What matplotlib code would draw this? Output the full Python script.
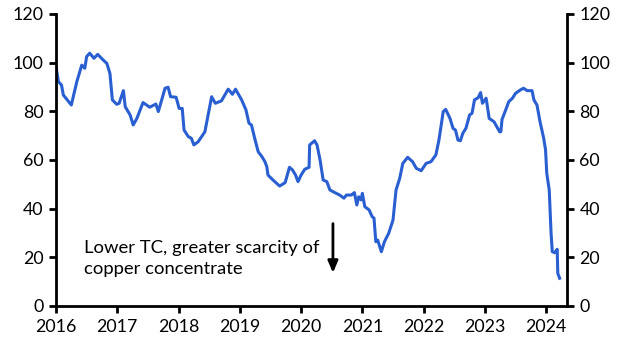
import matplotlib
matplotlib.use("Agg")
import matplotlib.pyplot as plt

years = [2016.00, 2016.04, 2016.09, 2016.12, 2016.25, 2016.34, 2016.42, 2016.47, 2016.50, 2016.55,
         2016.62, 2016.68, 2016.77, 2016.83, 2016.88, 2016.92, 2016.99, 2017.03, 2017.10, 2017.13,
         2017.21, 2017.26, 2017.32, 2017.42, 2017.53, 2017.63, 2017.67, 2017.78, 2017.83, 2017.87,
         2017.96, 2018.01, 2018.06, 2018.09, 2018.16, 2018.21, 2018.25, 2018.32, 2018.43, 2018.54,
         2018.60, 2018.70, 2018.81, 2018.88, 2018.93, 2019.03, 2019.10, 2019.15, 2019.19, 2019.25,
         2019.30, 2019.36, 2019.41, 2019.44, 2019.46, 2019.54, 2019.65, 2019.74, 2019.81, 2019.86,
         2019.91, 2019.95, 2020.00, 2020.06, 2020.13, 2020.14, 2020.22, 2020.26, 2020.31, 2020.36,
         2020.42, 2020.47, 2020.55, 2020.63, 2020.70, 2020.74, 2020.82, 2020.87, 2020.91, 2020.94,
         2020.98, 2021.00, 2021.04, 2021.11, 2021.16, 2021.19, 2021.22, 2021.25, 2021.31, 2021.36,
         2021.43, 2021.50, 2021.55, 2021.61, 2021.66, 2021.74, 2021.82, 2021.88, 2021.96, 2022.04,
         2022.12, 2022.20, 2022.25, 2022.32, 2022.36, 2022.43, 2022.48, 2022.52, 2022.56, 2022.60,
         2022.64, 2022.69, 2022.75, 2022.79, 2022.83, 2022.89, 2022.93, 2022.96, 2023.02, 2023.07,
         2023.15, 2023.24, 2023.26, 2023.28, 2023.34, 2023.39, 2023.45, 2023.50, 2023.58, 2023.63,
         2023.69, 2023.77, 2023.80, 2023.85, 2023.90, 2023.96, 2023.99, 2024.01, 2024.05, 2024.08,
         2024.10, 2024.14, 2024.18, 2024.19, 2024.22]
values = [98.3, 92.2, 90.8, 86.7, 82.6, 92.2, 99.0, 97.7, 102.5, 103.9,
          101.8, 103.4, 101.1, 99.7, 95.6, 84.7, 82.9, 83.3, 88.5, 81.9,
          78.5, 74.4, 77.1, 83.6, 81.7, 83.0, 79.9, 89.5, 89.9, 86.0,
          85.8, 81.2, 81.2, 72.3, 69.6, 68.9, 66.2, 67.5, 71.6, 86.0,
          83.3, 84.3, 89.1, 87.0, 89.1, 84.7, 80.6, 75.1, 74.4, 68.2,
          63.4, 61.4, 59.3, 57.3, 53.8, 51.8, 49.3, 50.7, 57.0, 55.9,
          53.8, 51.1, 53.8, 56.2, 57.0, 66.2, 67.9, 66.2, 60.0, 51.8,
          51.1, 47.7, 46.6, 45.6, 44.3, 45.6, 45.6, 46.6, 41.5, 44.9,
          43.6, 46.3, 40.8, 39.5, 36.7, 36.1, 26.4, 27.1, 22.3, 26.4,
          29.9, 35.3, 47.7, 52.5, 58.6, 61.1, 59.3, 56.6, 55.6, 58.6,
          59.3, 62.1, 68.2, 79.9, 80.8, 77.1, 73.0, 72.3, 68.2, 67.9,
          71.0, 73.0, 78.5, 79.2, 84.7, 85.6, 87.7, 83.3, 85.4, 77.1,
          75.7, 71.6, 71.6, 76.7, 80.6, 84.0, 85.4, 87.4, 88.8, 89.5,
          88.5, 88.5, 84.7, 82.6, 75.7, 68.9, 64.1, 54.5, 47.7, 29.9,
          22.3, 21.9, 23.3, 13.4, 11.4]

x_ticks = [2016, 2017, 2018, 2019, 2020, 2021, 2022, 2023, 2024]
y_ticks = [0, 20, 40, 60, 80, 100, 120]
annotation = "Lower TC, greater scarcity of\ncopper concentrate"

plt.rcParams['font.family'] = ['Lato', 'DejaVu Sans']
fig = plt.figure(figsize=(6.3, 3.54), dpi=100)
ax = fig.add_axes([56/630, 1-306/354, (567-56)/630, (306-14)/354])
ax.plot(years, values, color='#2a5fd1', lw=2.2, solid_joinstyle='round')
ax.set_xlim(2016, 2024.34)
ax.set_ylim(0, 120)
ax.set_xticks(x_ticks)
ax.set_yticks(y_ticks)
ax.spines['top'].set_visible(False)
for s in ['left', 'bottom', 'right']:
    ax.spines[s].set_linewidth(2.0)
ax.tick_params(axis='both', direction='out', length=5, width=2, labelsize=12.8, pad=4)
ax.tick_params(axis='y', right=True, labelright=True)

ax.text(2016.45, 19.5, annotation, fontsize=13.3, va='center', ha='left', linespacing=1.35)
ax.annotate('', xy=(2020.52, 12.5), xytext=(2020.52, 35),
            arrowprops=dict(arrowstyle='-|>,head_length=0.7,head_width=0.3', color='black', lw=2))

fig.savefig('out.png', dpi=100)
